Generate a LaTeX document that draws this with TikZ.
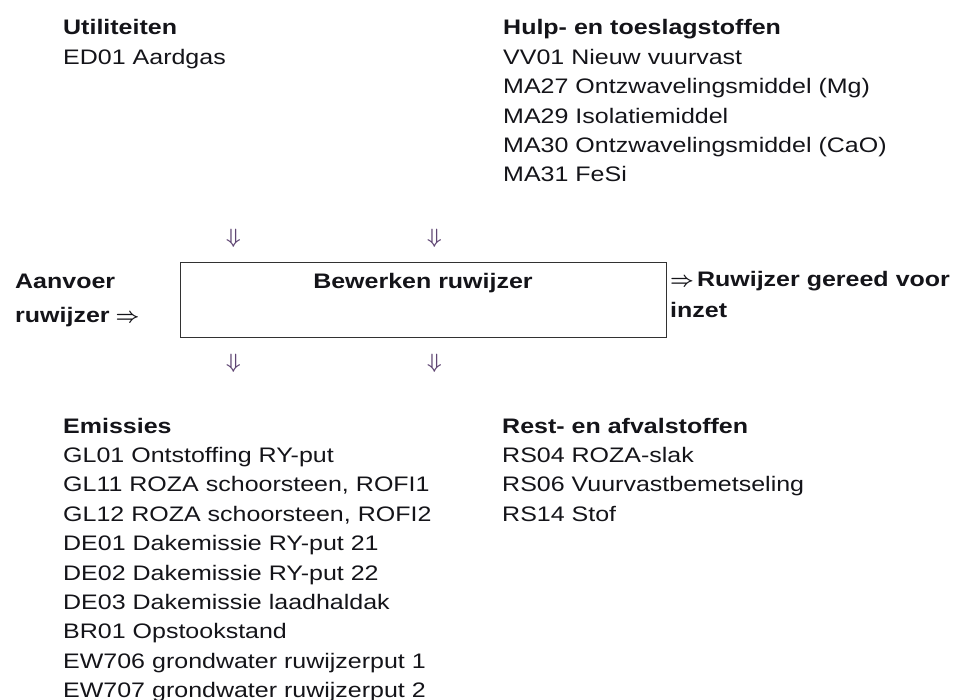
\documentclass[tikz,border=0pt]{standalone}
\usepackage{fontspec}
\setmainfont{Liberation Sans}[FakeStretch=1.19]
\definecolor{ink}{RGB}{20,20,25}
\definecolor{arrowgray}{RGB}{95,70,115}
\definecolor{boxline}{RGB}{50,50,50}
\begin{document}
\begin{tikzpicture}[x=1pt,y=-1pt,
  list/.style={anchor=base west, inner sep=0pt, align=left, text width=#1,
    text=ink, font=\fontsize{21}{29.4}\selectfont},
  list/.default=420pt,
  downarr/.style={inner sep=0pt, text=arrowgray, font=\fontsize{22}{22}\selectfont\boldmath},
  procbox/.style={draw=boxline, line width=1.4pt, anchor=north west,
    minimum width=486pt, minimum height=75pt, inner sep=0pt}]
\useasboundingbox (0,0) rectangle (960,700);

% input and output lists
\node[list] (util) at (63,35) {\textbf{Utiliteiten}\\ED01 Aardgas};
\node[list] (hulp) at (503,35) {\textbf{Hulp- en toeslagstoffen}\\
  VV01 Nieuw vuurvast\\
  MA27 Ontzwavelingsmiddel (Mg)\\
  MA29 Isolatiemiddel\\
  MA30 Ontzwavelingsmiddel (CaO)\\
  MA31 FeSi};

% process step
\node[procbox] (box) at (180,262) {};
\node[anchor=base, inner sep=0pt, text=ink, font=\fontsize{21}{29.4}\selectfont\bfseries]
  (boxtext) at (423,288) {Bewerken ruwijzer};

% flow markers above and below the process step
\node[downarr] (inA) at (233.5,238) {$\Downarrow$};
\node[downarr] (inB) at (434.5,238) {$\Downarrow$};
\node[downarr] (outA) at (233.5,363) {$\Downarrow$};
\node[downarr] (outB) at (434.5,363) {$\Downarrow$};

% supply and result
\node[list=200pt, font=\fontsize{21}{35}\selectfont\bfseries] (aanvoer) at (15,288)
  {Aanvoer\\ruwijzer\hspace{6pt}{\boldmath$\Rightarrow$}};
\node[list=300pt, font=\fontsize{21}{30.5}\selectfont\bfseries] (gereed) at (670,287)
  {{\boldmath$\Rightarrow$}\hspace{3pt}Ruwijzer gereed voor\\inzet};

% emissions and residues
\node[list] (emis) at (63,433) {\textbf{Emissies}\\
  GL01 Ontstoffing RY-put\\
  GL11 ROZA schoorsteen, ROFI1\\
  GL12 ROZA schoorsteen, ROFI2\\
  DE01 Dakemissie RY-put 21\\
  DE02 Dakemissie RY-put 22\\
  DE03 Dakemissie laadhaldak\\
  BR01 Opstookstand\\
  EW706 grondwater ruwijzerput 1\\
  EW707 grondwater ruwijzerput 2};
\node[list] (rest) at (502,433) {\textbf{Rest- en afvalstoffen}\\
  RS04 ROZA-slak\\
  RS06 Vuurvastbemetseling\\
  RS14 Stof};
\end{tikzpicture}
\end{document}
